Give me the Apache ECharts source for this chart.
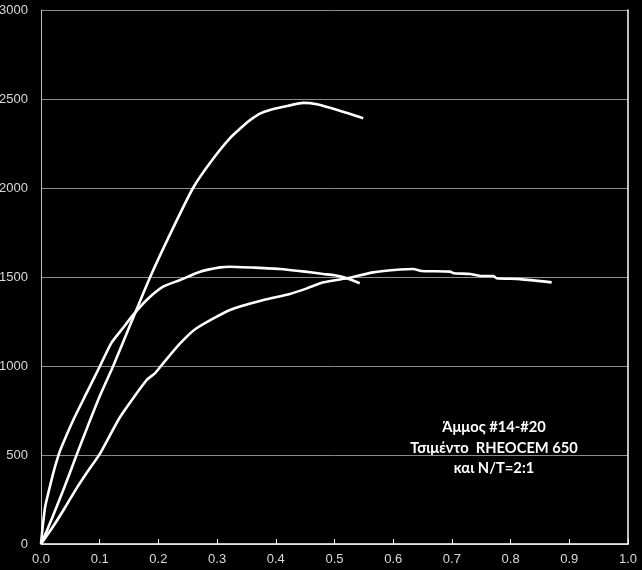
<!DOCTYPE html>
<html>
<head>
<meta charset="utf-8">
<script src="https://cdn.jsdelivr.net/npm/echarts@6/dist/echarts.min.js"></script>
<style>
html,body{margin:0;padding:0;background:#000;}
#chart{width:642px;height:570px;}
</style>
</head>
<body>
<div id="chart"></div>
<script>
// Curve with highest peak (~2475)
const curveA = [
  [0,0],[0.01,75],[0.02,155],[0.04,320],[0.06,495],[0.08,665],[0.10,830],
  [0.123,1000],[0.155,1255],[0.186,1500],[0.222,1755],[0.259,2000],[0.29,2150],
  [0.322,2280],[0.35,2365],[0.362,2395],[0.373,2418],[0.39,2438],[0.413,2456],
  [0.447,2478],[0.470,2470],[0.509,2434],[0.549,2392]
];
// Steep initial curve, peak ~1555
const curveB = [
  [0,0],[0.003,100],[0.007,208],[0.012,280],[0.021,400],[0.032,520],[0.042,600],
  [0.055,697],[0.078,850],[0.1005,1000],[0.12,1130],[0.14,1215],[0.157,1287],[0.180,1371],
  [0.208,1446],[0.237,1483],[0.271,1530],[0.305,1554],[0.322,1558],[0.36,1553],
  [0.407,1545],[0.45,1530],[0.481,1517],[0.50,1510],[0.52,1495],[0.543,1465]
];
// Slowest curve, peak ~1545 at 0.63
const curveC = [
  [0,0],[0.02,95],[0.041,205],[0.06,310],[0.08,410],[0.1,505],[0.135,715],[0.180,921],
  [0.194,959],[0.208,1015],[0.237,1127],[0.265,1212],[0.322,1315],[0.379,1371],
  [0.424,1405],[0.453,1436],[0.481,1470],[0.526,1496],[0.566,1526],[0.612,1542],
  [0.634,1545],[0.648,1534],[0.697,1530],[0.703,1521],[0.731,1517],[0.748,1506],
  [0.771,1506],[0.776,1493],[0.816,1488],[0.870,1470]
];
const annotation = ['Άμμος #14-#20', 'Τσιμέντο  RHEOCEM 650', 'και N/T=2:1'];

const chart = echarts.init(document.getElementById('chart'));
const lineStyle = {color:'#ffffff', width:2.6};
const mk = (d) => ({type:'line', data:d, showSymbol:false, symbol:'none', smooth:0.2, lineStyle, animation:false});
chart.setOption({
  backgroundColor:'#000000',
  animation:false,
  grid:{left:41, right:14, top:10, bottom:26, containLabel:false, outerBoundsMode:'none'},
  xAxis:{
    type:'value', min:0, max:1, interval:0.1,
    axisLine:{show:true, lineStyle:{color:'#ffffff', width:1.5}},
    axisTick:{show:true, inside:true, length:5, lineStyle:{color:'#ffffff', width:1}},
    splitLine:{show:false},
    axisLabel:{color:'#d9d9d9', fontSize:13, fontFamily:'Liberation Sans', margin:9,
      formatter:(v)=>v.toFixed(1)}
  },
  yAxis:[{
    type:'value', min:0, max:3000, interval:500,
    axisLine:{show:true, lineStyle:{color:'#bfbfbf', width:1}},
    axisTick:{show:false},
    splitLine:{show:true, lineStyle:{color:'#8c8c8c', width:1}},
    axisLabel:{color:'#d9d9d9', fontSize:13, fontFamily:'Liberation Sans', margin:13,
      formatter:(v)=>String(v)}
  },{
    type:'value', min:0, max:3000, interval:500, position:'right',
    axisLine:{show:true, lineStyle:{color:'#ffffff', width:1.5}},
    axisTick:{show:false}, axisLabel:{show:false}, splitLine:{show:false}
  }],
  series:[mk(curveA), mk(curveB), mk(curveC)],
  graphic:annotation.map((t,i)=>({
    type:'text', x:494, y:420 + i*20.5,
    style:{text:t, fill:'#ffffff', font:'bold 14.7px Lato', textAlign:'center', textVerticalAlign:'top'}
  }))
});
</script>
</body>
</html>
